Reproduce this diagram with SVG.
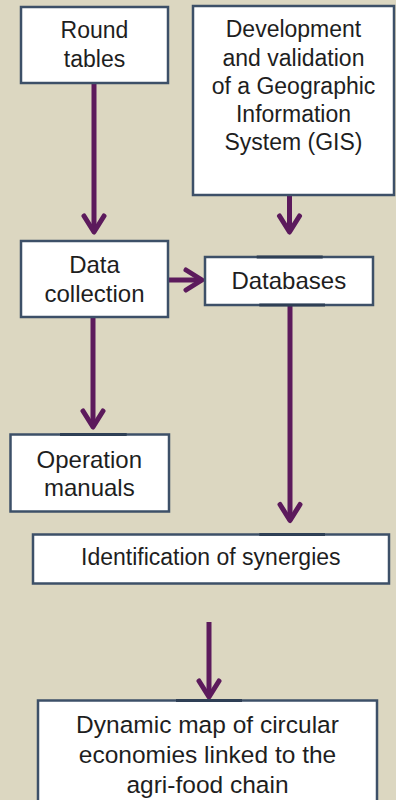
<svg xmlns="http://www.w3.org/2000/svg" width="396" height="800" viewBox="0 0 396 800">
<style>
.box{fill:#ffffff;stroke:#3d5068;stroke-width:2.5}
.t{font-family:"Liberation Sans",Arial,sans-serif;fill:#1e1e1e;text-anchor:middle}
.s23{font-size:23px}
.s24{font-size:24px}
.con{stroke:#5c1a5c;stroke-width:5;fill:none}
.pin{stroke:#2e3f55;stroke-width:3}
</style>
<defs>
<marker id="chev" markerUnits="userSpaceOnUse" markerWidth="40" markerHeight="40" viewBox="-30 -20 40 40" refX="0" refY="0" orient="auto">
<path d="M-16,-10 L0,0 L-16,10" fill="none" stroke="#5c1a5c" stroke-width="5" stroke-linejoin="round" stroke-linecap="round"/>
</marker>
</defs>
<rect width="396" height="800" fill="#dcd7c1"/>
<g id="connectors">
<line class="con" x1="94" y1="84" x2="94" y2="232" marker-end="url(#chev)"/>
<line class="con" x1="289.5" y1="196" x2="289.5" y2="232" marker-end="url(#chev)"/>
<line class="con" x1="169" y1="280" x2="202" y2="280" marker-end="url(#chev)"/>
<line class="con" x1="93" y1="318" x2="93" y2="427" marker-end="url(#chev)"/>
<line class="con" x1="290" y1="306" x2="290" y2="520.5" marker-end="url(#chev)"/>
<line class="con" x1="209" y1="622" x2="209" y2="697" marker-end="url(#chev)"/>
</g>
<g id="round-tables">
<rect class="box" x="21" y="7" width="147" height="76"/>
<text class="t s23" x="94.5" y="38.3">Round</text>
<text class="t s23" x="94.5" y="66.7">tables</text>
</g>
<g id="gis">
<rect class="box" x="193" y="6" width="201" height="189"/>
<text class="t s23" x="293.5" y="37.3">Development</text>
<text class="t s23" x="293.5" y="65.7">and validation</text>
<text class="t s23" x="293.5" y="93.5">of a Geographic</text>
<text class="t s23" x="293.5" y="121.7">Information</text>
<text class="t s23" x="293.5" y="150">System (GIS)</text>
</g>
<g id="data-collection">
<rect class="box" x="21" y="241" width="147" height="76"/>
<text class="t s24" x="94.5" y="273.3">Data</text>
<text class="t s24" x="94.5" y="301.7">collection</text>
</g>
<g id="databases">
<rect class="box" x="205" y="257" width="168" height="48"/>
<line class="pin" x1="256.7" y1="257" x2="322.7" y2="257"/>
<line class="pin" x1="259.3" y1="305" x2="325" y2="305"/>
<text class="t s24" x="288.8" y="289.3">Databases</text>
</g>
<g id="operation-manuals">
<rect class="box" x="10.5" y="434.5" width="158.5" height="77"/>
<line class="pin" x1="60" y1="434.5" x2="126.7" y2="434.5"/>
<text class="t s24" x="89.3" y="467.7">Operation</text>
<text class="t s24" x="89.3" y="496">manuals</text>
</g>
<g id="identification">
<rect class="box" x="33" y="534.5" width="356" height="49"/>
<line class="pin" x1="259.3" y1="534.5" x2="325" y2="534.5"/>
<text class="t s23" x="210.8" y="565">Identification of synergies</text>
</g>
<g id="dynamic-map">
<rect class="box" x="38" y="700.5" width="339" height="110"/>
<line class="pin" x1="176" y1="700.5" x2="242" y2="700.5"/>
<text class="t s24" x="207.5" y="733.3" style="font-size:24.5px">Dynamic map of circular</text>
<text class="t s24" x="207.5" y="763.3" style="font-size:24.5px">economies linked to the</text>
<text class="t s24" x="207.5" y="792.7" style="font-size:24.5px">agri-food chain</text>
</g>
</svg>
